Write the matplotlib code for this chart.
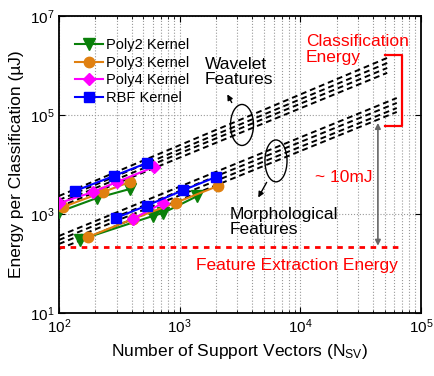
import numpy as np
import matplotlib
matplotlib.use("Agg")
import matplotlib.pyplot as plt
from matplotlib.patches import Ellipse
from matplotlib.ticker import LogLocator, NullFormatter, NullLocator, FixedLocator

plt.rcParams['font.family'] = ['Liberation Sans', 'DejaVu Sans']
plt.rcParams['mathtext.fontset'] = 'custom'
plt.rcParams['mathtext.rm'] = 'Liberation Sans'
plt.rcParams['mathtext.it'] = 'Liberation Sans'

# measured points, wavelet features (upper group)
wav_poly2_n = [100, 206, 387]
wav_poly2_e = [1100, 2100, 3200]
wav_poly3_n = [108, 232, 387]
wav_poly3_e = [1380, 2780, 4430]
wav_poly4_n = [100, 191, 302, 612]
wav_poly4_e = [1650, 2780, 4430, 8900]
wav_rbf_n = [136, 285, 535]
wav_rbf_e = [2920, 5860, 10700]

# measured points, morphological features (lower group)
mor_poly2_n = [149, 600, 728, 1400]
mor_poly2_e = [300, 911, 1048, 2300]
mor_poly3_n = [174, 410, 932, 2080]
mor_poly3_e = [343, 792, 1700, 3680]
mor_poly4_n = [410, 728]
mor_poly4_e = [800, 1667]
mor_rbf_n = [296, 535, 1063, 2000]
mor_rbf_e = [830, 1480, 3000, 5580]

# projected classification energy (dashed), start/end of each line
wav_proj_n = [100, 52500]
wav_proj_e = [[2310, 1.42e6], [1920, 1.12e6], [1667, 8.9e5], [1384, 7.1e5]]
mor_proj_n = [100, 63000]
mor_proj_e = [[360, 2.2e5], [299, 1.75e5], [248, 1.38e5], [196, 1.15e5]]

feat_n = [100, 67000]
feat_e = 220

kernels = ['Poly2 Kernel', 'Poly3 Kernel', 'Poly4 Kernel', 'RBF Kernel']
colors = ['#0a800a', '#e08010', '#ff00ff', '#0000ff']
markers = ['v', 'o', 'D', 's']
msizes = [8, 7.5, 6.5, 6.5]

fig = plt.figure(figsize=(4.34, 3.76), dpi=100)
ax = fig.add_axes([0.136, 0.1676, 0.834, 0.790])

wav = [(wav_poly2_n, wav_poly2_e), (wav_poly3_n, wav_poly3_e),
       (wav_poly4_n, wav_poly4_e), (wav_rbf_n, wav_rbf_e)]
mor = [(mor_poly2_n, mor_poly2_e), (mor_poly3_n, mor_poly3_e),
       (mor_poly4_n, mor_poly4_e), (mor_rbf_n, mor_rbf_e)]

for e in wav_proj_e:
    ax.plot(wav_proj_n, e, color='k', lw=1.4, dashes=(3, 2), zorder=2)
for e in mor_proj_e:
    ax.plot(mor_proj_n, e, color='k', lw=1.4, dashes=(3, 2), zorder=2)

ax.plot(feat_n, [feat_e, feat_e], color='#ff0000', lw=2, dashes=(2, 2), zorder=2)

for i in range(4):
    ax.plot(wav[i][0], wav[i][1], color=colors[i], marker=markers[i],
            ms=msizes[i], lw=1.5, label=kernels[i], zorder=3)
    ax.plot(mor[i][0], mor[i][1], color=colors[i], marker=markers[i],
            ms=msizes[i], lw=1.5, zorder=3)

ax.set_xscale('log')
ax.set_yscale('log')
ax.set_xlim(1e2, 1e5)
ax.set_ylim(1e1, 1e7)
ax.yaxis.set_major_locator(FixedLocator([1e1, 1e3, 1e5, 1e7]))
ax.yaxis.set_minor_locator(NullLocator())
ax.yaxis.set_minor_formatter(NullFormatter())
ax.xaxis.set_minor_locator(LogLocator(base=10, subs=np.arange(2, 10), numticks=10))
ax.xaxis.set_minor_formatter(NullFormatter())
ax.tick_params(which='both', direction='in', top=True, right=True, labelsize=11)
ax.tick_params(which='major', length=4)
ax.tick_params(which='minor', length=2)
ax.grid(True, which='major', axis='y', color='0.6', ls=':', lw=0.8)
ax.grid(True, which='both', axis='x', color='0.6', ls=':', lw=0.8)
for s in ax.spines.values():
    s.set_linewidth(1.3)

ax.set_xlabel(r'Number of Support Vectors (N$_{\mathrm{SV}}$)', fontsize=12.5)
ax.set_ylabel('Energy per Classification (µJ)', fontsize=12.5)

ax.legend(loc='upper left', bbox_to_anchor=(0.02, 0.955), frameon=False,
          fontsize=10.5, handlelength=1.9, handletextpad=0.2, labelspacing=0.25,
          borderaxespad=0.2)

# annotations
ax.add_patch(Ellipse((0.5055, 0.633), 0.0635, 0.138, transform=ax.transAxes,
                     fill=False, ec='k', lw=1, zorder=4))
ax.add_patch(Ellipse((0.5994, 0.512), 0.061, 0.141, transform=ax.transAxes,
                     fill=False, ec='k', lw=1, zorder=4))
ax.annotate('', xy=(2420, 2.92e5), xytext=(2770, 1.59e5),
            arrowprops=dict(arrowstyle='-|>', color='k', lw=1, mutation_scale=8))
ax.annotate('', xy=(4365, 1920), xytext=(5395, 4865),
            arrowprops=dict(arrowstyle='-|>', color='k', lw=1, mutation_scale=8))
ax.annotate('', xy=(43950, 6.9e4), xytext=(43950, 228),
            arrowprops=dict(arrowstyle='<|-|>', color='0.4', lw=1.2,
                            mutation_scale=8, shrinkA=0, shrinkB=0))
ax.plot([50200, 69500, 69500, 50200], [1.63e6, 1.63e6, 6.0e4, 6.0e4],
        color='#ff0000', lw=1.6, zorder=4)

ax.text(1620, 7.4e5, 'Wavelet\nFeatures', fontsize=12.5, ha='left',
        va='center', linespacing=1.05)
ax.text(2610, 689, 'Morphological\nFeatures', fontsize=12.5, ha='left',
        va='center', linespacing=1.05)
ax.text(11100, 2.1e6, 'Classification\nEnergy', fontsize=12.5, ha='left',
        va='center', linespacing=1.05, color='#ff0000')
ax.text(13200, 5580, '~ 10mJ', fontsize=12.5, ha='left', va='center',
        color='#ff0000')
ax.text(1365, 93, 'Feature Extraction Energy', fontsize=12.5, ha='left',
        va='center', color='#ff0000')

fig.savefig('out.png', dpi=100)
